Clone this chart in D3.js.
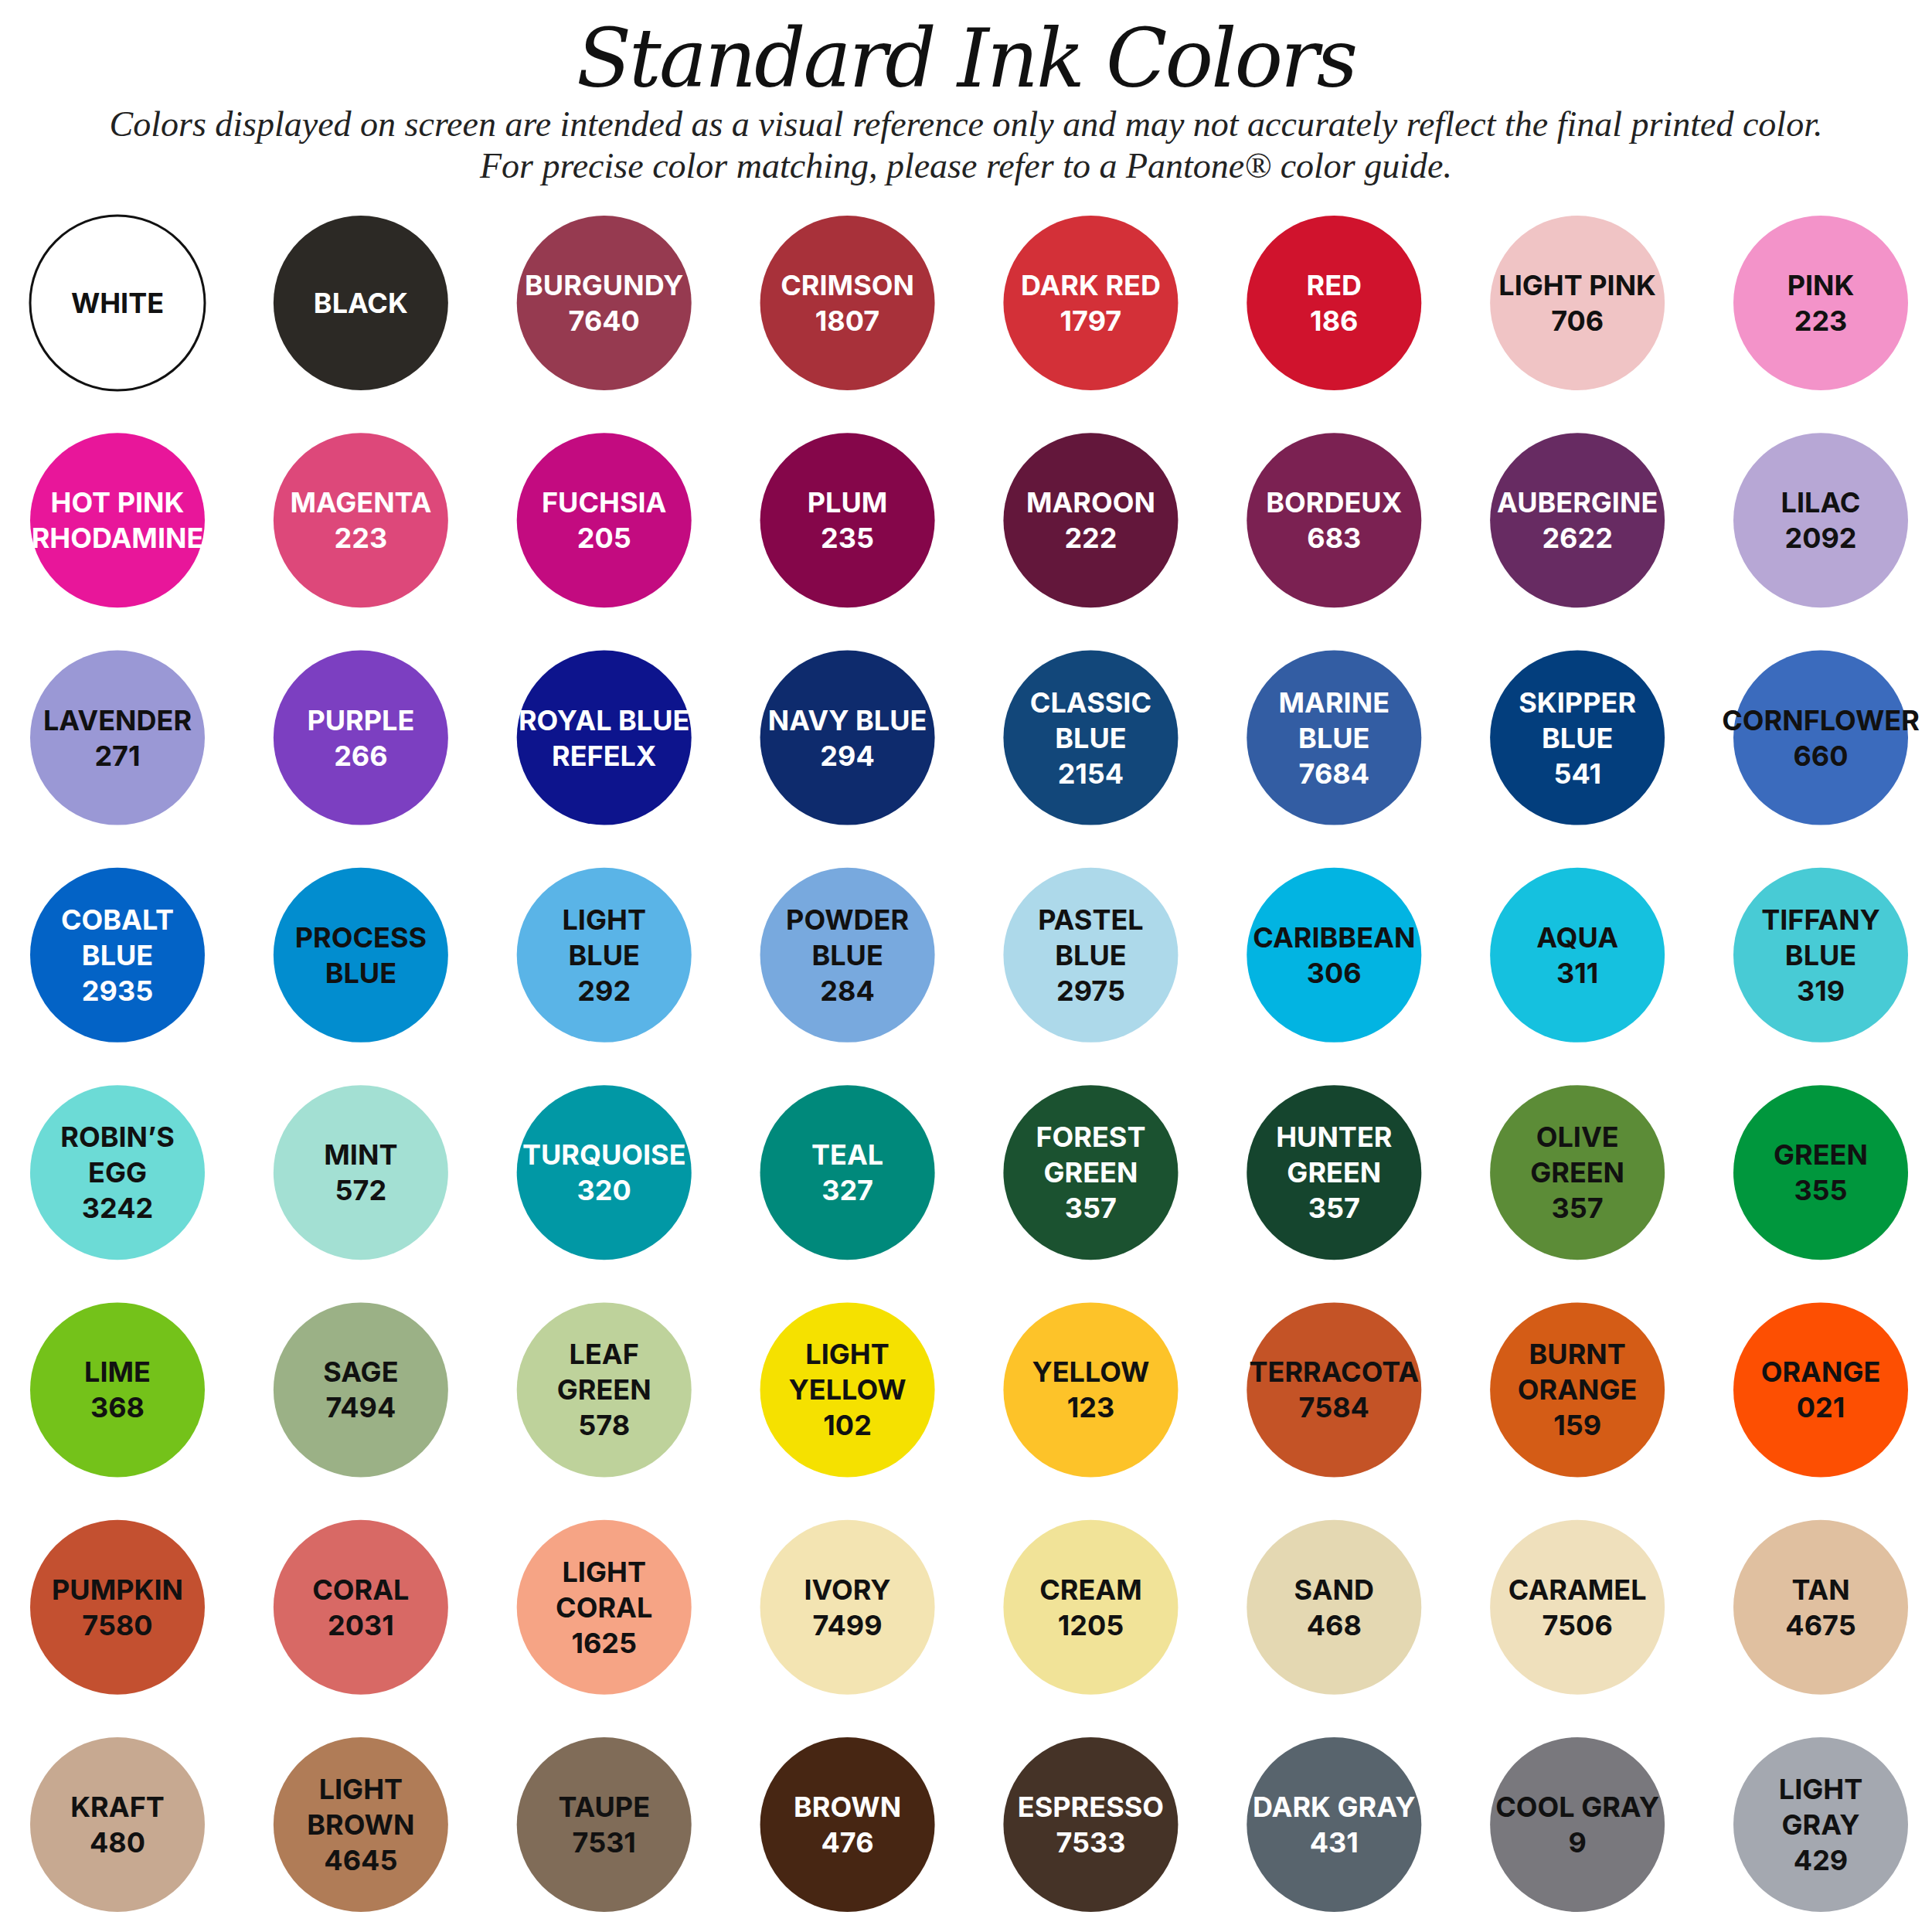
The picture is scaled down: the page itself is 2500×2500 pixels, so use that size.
<!DOCTYPE html>
<html><head><meta charset="utf-8">
<script src="https://cdn.jsdelivr.net/npm/d3@7"></script>
<style>body{margin:0;background:#fff}</style>
</head><body>
<script>
// swatch names (lines), fills, and label colour
var names = [
  ["WHITE"],["BLACK"],["BURGUNDY","7640"],["CRIMSON","1807"],["DARK RED","1797"],["RED","186"],["LIGHT PINK","706"],["PINK","223"],
  ["HOT PINK","RHODAMINE"],["MAGENTA","223"],["FUCHSIA","205"],["PLUM","235"],["MAROON","222"],["BORDEUX","683"],["AUBERGINE","2622"],["LILAC","2092"],
  ["LAVENDER","271"],["PURPLE","266"],["ROYAL BLUE","REFELX"],["NAVY BLUE","294"],["CLASSIC","BLUE","2154"],["MARINE","BLUE","7684"],["SKIPPER","BLUE","541"],["CORNFLOWER","660"],
  ["COBALT","BLUE","2935"],["PROCESS","BLUE"],["LIGHT","BLUE","292"],["POWDER","BLUE","284"],["PASTEL","BLUE","2975"],["CARIBBEAN","306"],["AQUA","311"],["TIFFANY","BLUE","319"],
  ["ROBIN\u2019S","EGG","3242"],["MINT","572"],["TURQUOISE","320"],["TEAL","327"],["FOREST","GREEN","357"],["HUNTER","GREEN","357"],["OLIVE","GREEN","357"],["GREEN","355"],
  ["LIME","368"],["SAGE","7494"],["LEAF","GREEN","578"],["LIGHT","YELLOW","102"],["YELLOW","123"],["TERRACOTA","7584"],["BURNT","ORANGE","159"],["ORANGE","021"],
  ["PUMPKIN","7580"],["CORAL","2031"],["LIGHT","CORAL","1625"],["IVORY","7499"],["CREAM","1205"],["SAND","468"],["CARAMEL","7506"],["TAN","4675"],
  ["KRAFT","480"],["LIGHT","BROWN","4645"],["TAUPE","7531"],["BROWN","476"],["ESPRESSO","7533"],["DARK GRAY","431"],["COOL GRAY","9"],["LIGHT","GRAY","429"]
];
var fills = [
  "#ffffff","#2c2925","#963a50","#a8313a","#d33038","#d0132d","#f0c4c5","#f393c9",
  "#e8169a","#dd487a","#c30b80","#85064a","#63173b","#7b2152","#672b62","#b7a7d5",
  "#9a98d5","#7c3fc1","#0d148d","#0e2b6d","#12477a","#335da3","#033e7d","#3b6bbd",
  "#0363c6","#028dcf","#5ab4e7","#78a9de","#add9ea","#02b4e2","#15c1df","#48cbd5",
  "#6cdbd6","#a3e0d3","#0198a5","#00897b","#1b5230","#15452e","#5c8c37","#00973d",
  "#74c21a","#9bb186","#bed29b","#f5e100","#fdc329","#c45326","#d45c16","#fd4f02",
  "#c35030","#d86965","#f6a485","#f3e4b2","#f1e398","#e4d8b2","#efe0bc","#e0c0a0",
  "#c7a991","#b07c57","#806c58","#472613","#453327","#58646d","#79787d","#a4a8b0"
];
var darkText = [
  1,0,0,0,0,0,1,1,
  0,0,0,0,0,0,0,1,
  1,0,0,0,0,0,0,1,
  0,1,1,1,1,1,1,1,
  1,1,0,0,0,0,1,1,
  1,1,1,1,1,1,1,1,
  1,1,1,1,1,1,1,1,
  1,1,1,0,0,0,1,1
];
var cols = d3.range(8), rows = d3.range(8);

var W = 2500, H = 2500;
var svg = d3.select("body").append("svg").attr("width", W).attr("height", H);

var x = d3.scalePoint().domain(cols).range([152, 2356]);
var y = d3.scalePoint().domain(rows).range([392, 2361]);
var r = 113;

svg.append("text").attr("x", W/2).attr("y", 112).attr("text-anchor", "middle")
  .style("font-family", "DejaVu Serif, Liberation Serif, serif").style("font-style", "italic")
  .style("font-size", "104px").style("letter-spacing", "-3px").attr("fill", "#111").text("Standard Ink Colors");
svg.append("text").attr("x", W/2).attr("y", 176).attr("text-anchor", "middle")
  .style("font-family", "Liberation Serif, serif").style("font-style", "italic")
  .style("font-size", "46px").attr("fill", "#222")
  .text("Colors displayed on screen are intended as a visual reference only and may not accurately reflect the final printed color.");
svg.append("text").attr("x", W/2).attr("y", 230).attr("text-anchor", "middle")
  .style("font-family", "Liberation Serif, serif").style("font-style", "italic")
  .style("font-size", "46px").attr("fill", "#222")
  .text("For precise color matching, please refer to a Pantone\u00ae color guide.");

var g = svg.selectAll("g.sw").data(names).enter().append("g")
  .attr("transform", function(d, i) { return "translate(" + x(i % 8) + "," + y(Math.floor(i / 8)) + ")"; });

g.append("circle").attr("r", r)
  .attr("fill", function(d, i) { return fills[i]; })
  .attr("stroke", function(d, i) { return i === 0 ? "#111" : "none"; })
  .attr("stroke-width", 3);

var lh = 46;
g.append("text").attr("text-anchor", "middle")
  .style("font-family", "Inter, Roboto, sans-serif").style("font-weight", 700)
  .style("font-size", "36px")
  .attr("fill", function(d, i) { return darkText[i] ? "#111" : "#fff"; })
  .each(function(d) {
    var t = d3.select(this), n = d.length;
    d.forEach(function(line, k) {
      t.append("tspan").attr("x", 0).attr("y", (k - (n - 1) / 2) * lh + 13).text(line);
    });
  });
</script>
</body></html>
